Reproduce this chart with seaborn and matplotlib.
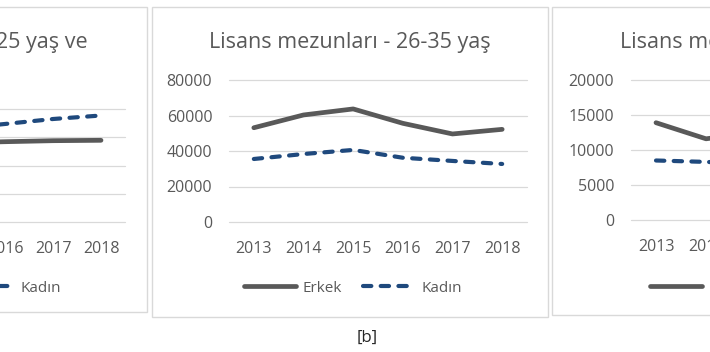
import matplotlib
matplotlib.use("Agg")
import matplotlib.pyplot as plt
import pandas as pd
import seaborn as sns
from matplotlib.patches import Rectangle

# Yillar ve seriler
years = [2013, 2014, 2015, 2016, 2017, 2018]

erkek_25_alti = [135000, 138000, 140000, 142100, 143900, 144600]
kadin_25_alti = [150000, 158000, 165000, 173500, 182300, 188500]

erkek_26_35 = [53100, 60300, 63700, 55600, 49600, 52200]
kadin_26_35 = [35500, 38300, 40600, 36200, 34400, 32700]

erkek_36_ustu = [13900, 11600, 12500, 13000, 12200, 12600]
kadin_36_ustu = [8500, 8300, 8000, 8400, 8200, 8600]

titles = [
    ["Lisans mezunları - 25 yaş ve", "altı"],
    ["Lisans mezunları - 26-35 yaş"],
    ["Lisans mezunları - 36+ yaş"],
]
yticks = [
    [0, 50000, 100000, 150000, 200000],
    [0, 20000, 40000, 60000, 80000],
    [0, 5000, 10000, 15000, 20000],
]
series_labels = ["Erkek", "Kadın"]
caption = "[b]"

W, H = 710, 352
GRAY = "#595959"
BLUE = "#1F497D"
GRID = "#D9D9D9"

sns.set_theme(style="white")
plt.rcParams["font.family"] = ["Open Sans", "DejaVu Sans"]
plt.rcParams["lines.dash_capstyle"] = "round"
plt.rcParams["lines.solid_capstyle"] = "round"


def px_rect(x0, y0, x1, y1):
    return [x0 / W, 1 - y1 / H, (x1 - x0) / W, (y1 - y0) / H]


fig = plt.figure(figsize=(W / 100, H / 100), dpi=100)
fig.patch.set_facecolor("white")

# panel boxes: (left, top, right, bottom) in pixels
boxes = [(-249, 7, 147, 312), (152, 7, 548, 317), (552, 7, 948, 315)]
# plot areas
areas = [(-163, 109, 125, 222), (229, 80, 527, 222), (631, 80, 931, 220)]
legend_cx = [-48, 353, 759]
title_cx = [-52, 350, 751]

panels = [
    (erkek_25_alti, kadin_25_alti),
    (erkek_26_35, kadin_26_35),
    (erkek_36_ustu, kadin_36_ustu),
]

for i, (erkek, kadin) in enumerate(panels):
    bx0, by0, bx1, by1 = boxes[i]
    fig.add_artist(Rectangle((bx0 / W, 1 - by1 / H), (bx1 - bx0) / W, (by1 - by0) / H,
                             transform=fig.transFigure, facecolor="white",
                             edgecolor=GRID, linewidth=1.0, zorder=0))

    ax = fig.add_axes(px_rect(*areas[i]))
    ax.set_facecolor("none")

    df = pd.DataFrame({
        "yil": years * 2,
        "deger": erkek + kadin,
        "cinsiyet": ["Erkek"] * len(years) + ["Kadın"] * len(years),
    })
    sns.lineplot(data=df, x="yil", y="deger", hue="cinsiyet", style="cinsiyet",
                 palette={"Erkek": GRAY, "Kadın": BLUE},
                 dashes={"Erkek": "", "Kadın": (2.0, 2.25)},
                 linewidth=3.2, ax=ax, legend=False)
    ax.lines[0].set_linewidth(3.4)
    ax.lines[1].set_linewidth(3.0)

    ax.set_xlim(2012.5, 2018.5)
    ax.set_ylim(yticks[i][0], yticks[i][-1])
    ax.set_xticks(years)
    ax.set_xticklabels([str(y) for y in years])
    ax.set_yticks(yticks[i])
    ax.set_yticklabels([str(v) for v in yticks[i]])
    ax.set_xlabel("")
    ax.set_ylabel("")
    ax.grid(axis="y", color=GRID, linewidth=0.9)
    for gl in ax.get_ygridlines():
        gl.set_clip_on(False)
    ax.set_axisbelow(True)
    for s in ax.spines.values():
        s.set_visible(False)
    ax.tick_params(axis="both", length=0, labelsize=11.5, labelcolor=GRAY)
    ax.tick_params(axis="y", pad=12)
    ax.tick_params(axis="x", pad=14)

    # title
    for k, line in enumerate(titles[i]):
        fig.text(title_cx[i] / W, 1 - (48 + 29 * k) / H, line, ha="center",
                 va="baseline", fontsize=15.5, color=GRAY)

    leg = ax.legend(ax.lines[:2], series_labels, loc="center", ncol=2,
                    bbox_to_anchor=(legend_cx[i] / W, 1 - 288 / H),
                    bbox_transform=fig.transFigure, frameon=False,
                    fontsize=11, handlelength=3.4, handletextpad=0.4,
                    columnspacing=1.4, borderpad=0)
    for t in leg.get_texts():
        t.set_color(GRAY)

fig.text(367 / W, 1 - 338 / H, caption, ha="center", va="center",
         fontsize=12, color="#262626")

fig.savefig("out.png", dpi=100)
